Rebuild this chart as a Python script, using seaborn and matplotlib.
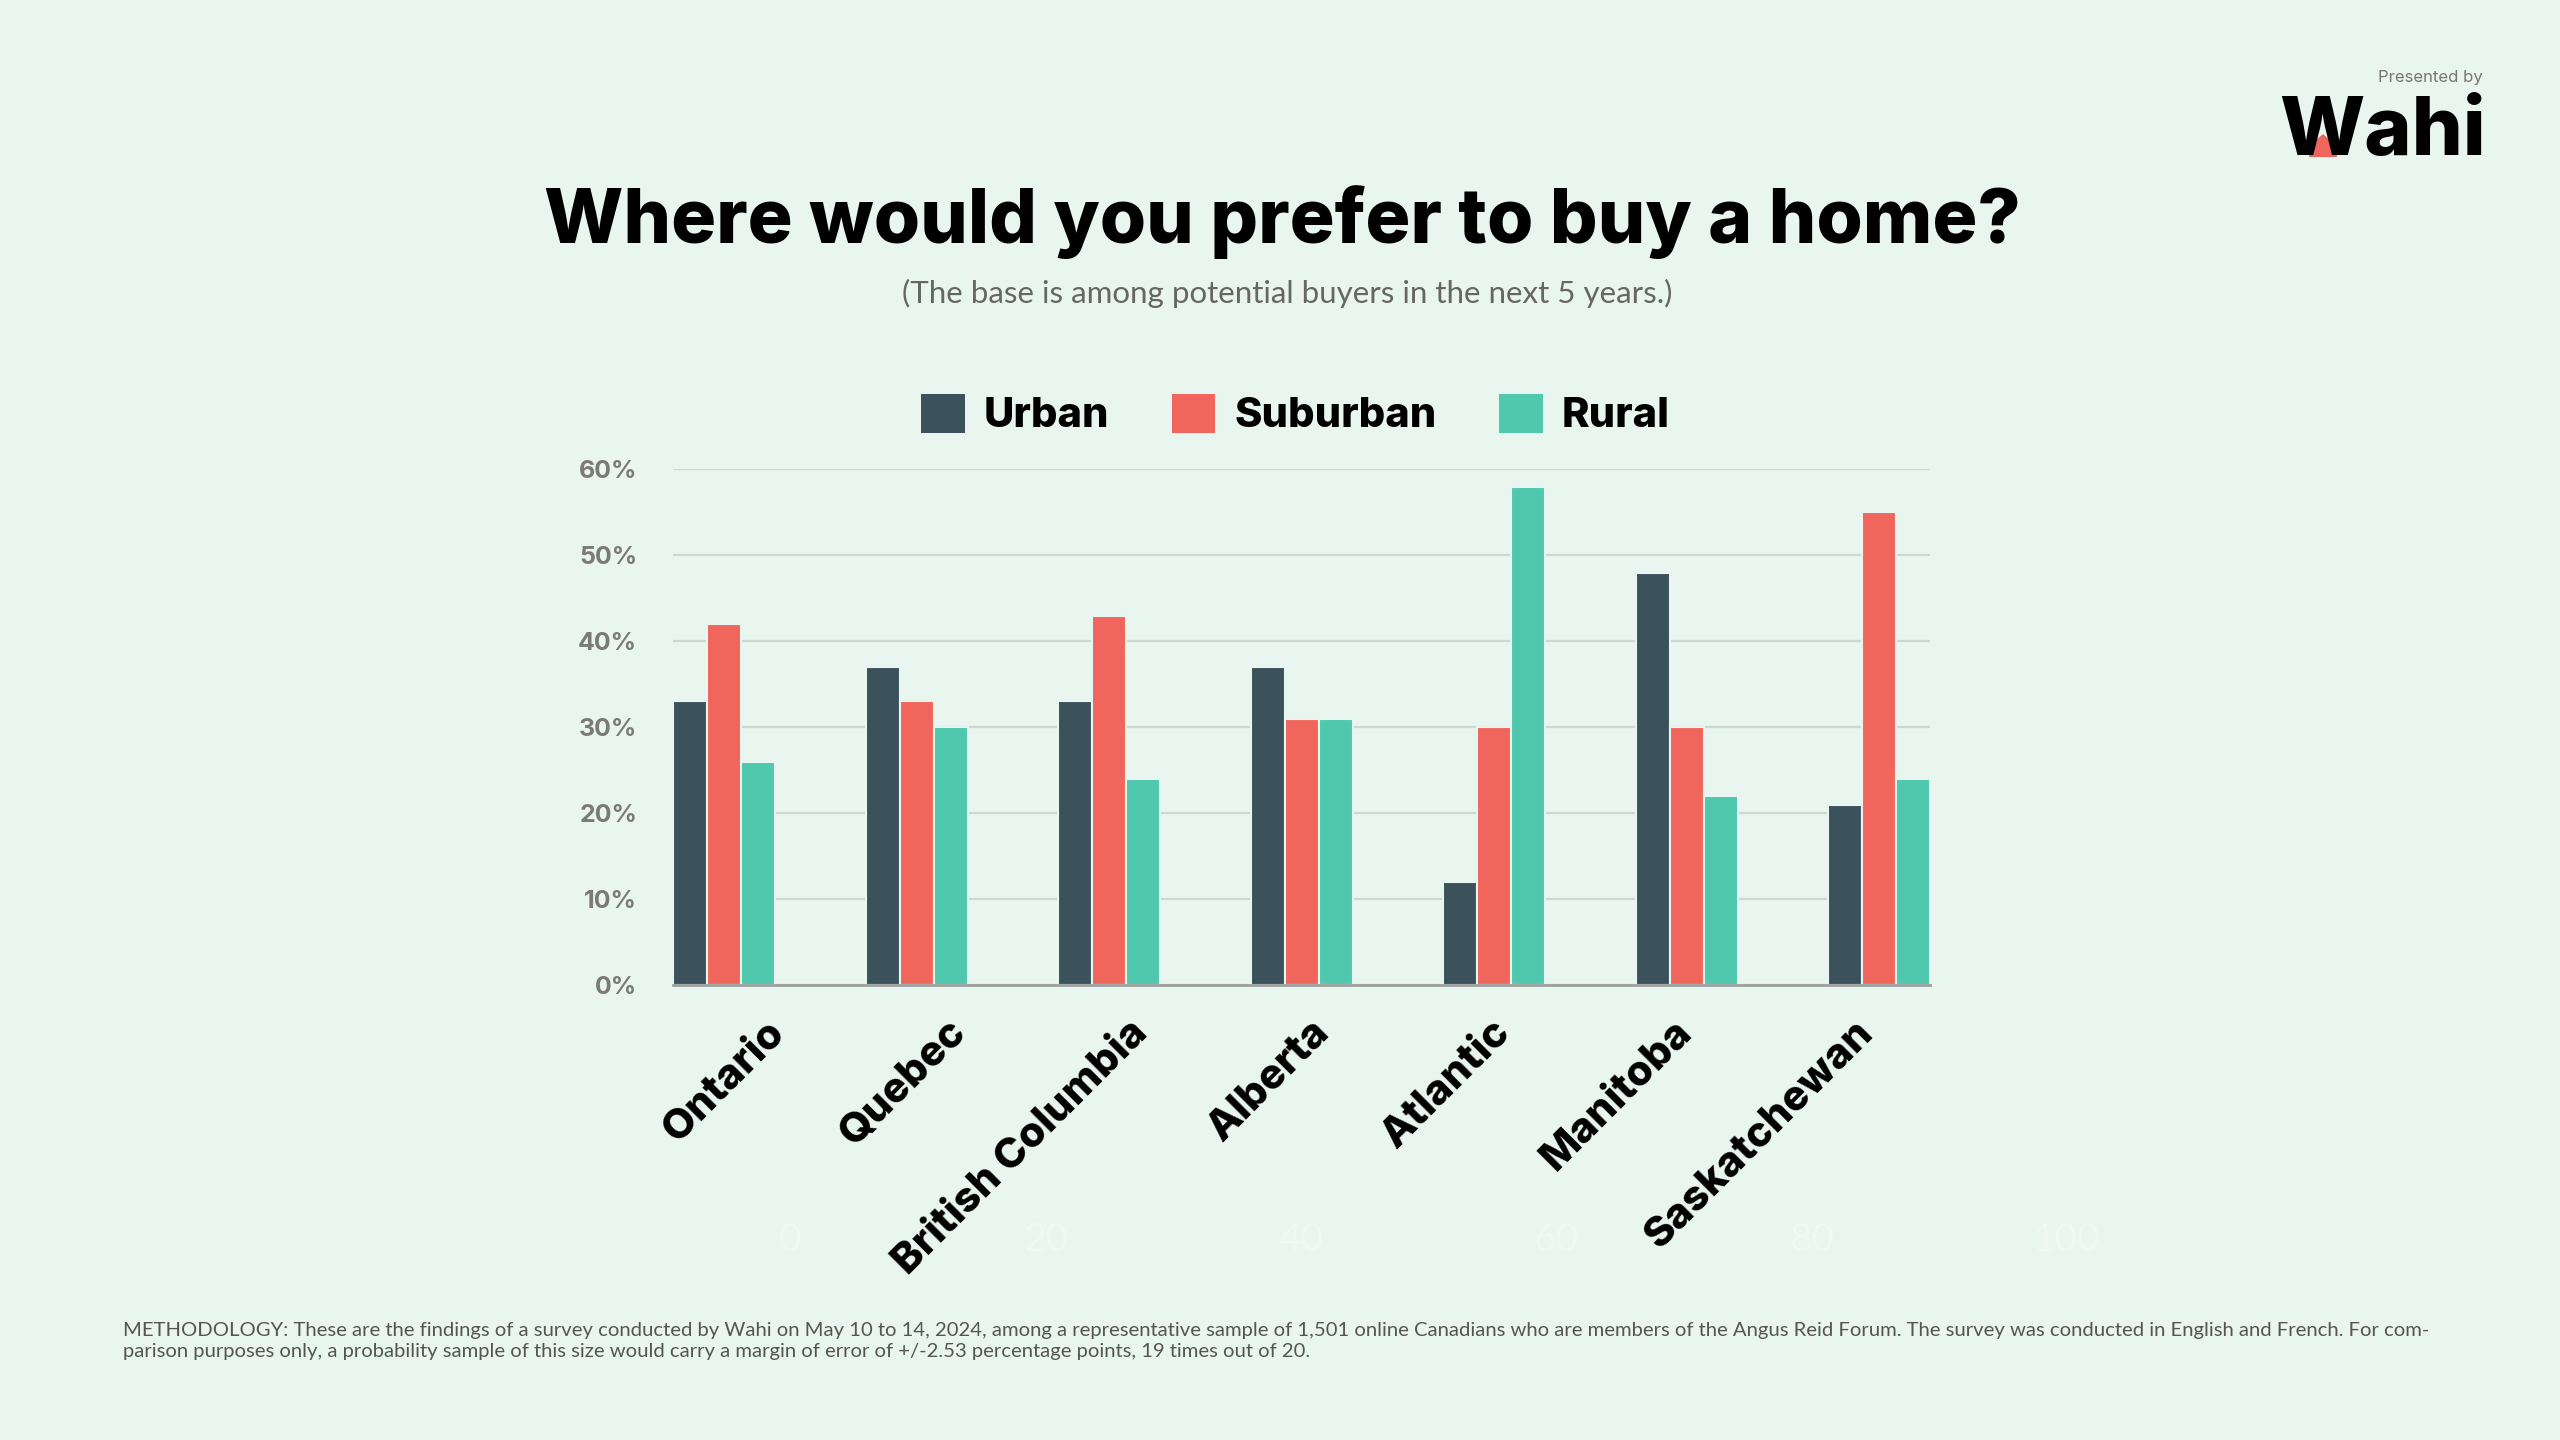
import numpy as np
import pandas as pd
import seaborn as sns
import matplotlib.pyplot as plt
import matplotlib.transforms as mtransforms
from matplotlib.patches import Rectangle, Polygon

# survey results, share of potential buyers (%)
regions = ["Ontario", "Quebec", "British Columbia", "Alberta", "Atlantic", "Manitoba", "Saskatchewan"]
urban = [33, 37, 33, 37, 12, 48, 21]
suburban = [42, 33, 43, 31, 30, 30, 55]
rural = [26, 30, 24, 31, 58, 22, 24]
series = ["Urban", "Suburban", "Rural"]
colors = ["#3B525D", "#F0665C", "#4FC8AE"]
yticks = [0, 10, 20, 30, 40, 50, 60]
ghost_ticks = [0, 20, 40, 60, 80, 100]

bg = "#E8F6EF"

df = pd.DataFrame({
    "region": regions * 3,
    "share": urban + suburban + rural,
    "type": [s for s in series for _ in regions],
})

sns.set_theme(style="white")
plt.rcParams["font.family"] = ["Inter", "DejaVu Sans"]

fig = plt.figure(figsize=(25.6, 14.4), dpi=100, facecolor=bg)
ax = fig.add_axes([0.263, 0.316, 0.491, 0.358])
ax.set_facecolor(bg)

sns.barplot(data=df, x="region", y="share", hue="type", palette=colors, saturation=1,
            width=0.53, edgecolor=bg, linewidth=1.5, ax=ax, legend=False, zorder=3)

ax.set_xlim(-0.265, 6.265)
ax.set_ylim(0, 60)
ax.set_yticks(yticks)
ax.set_yticklabels([f"{v}%" for v in yticks], fontsize=18, fontweight="bold", color="#7a7a7a")
ax.tick_params(axis="y", length=0, pad=26)
ax.tick_params(axis="x", length=0, pad=30)
ax.yaxis.grid(True, color="#cdd8d2", linewidth=1.6, zorder=0)
ax.set_axisbelow(True)
for s in ["top", "right", "left"]:
    ax.spines[s].set_visible(False)
ax.spines["bottom"].set_color("#9aa09d")
ax.spines["bottom"].set_linewidth(2)
ax.spines["bottom"].set_zorder(5)
ax.set_xlabel("")
ax.set_ylabel("")

ax.set_xticks(range(len(regions)))
ax.set_xticklabels(regions, rotation=45, ha="right", va="center", rotation_mode="anchor",
                   fontsize=30, fontweight="heavy", color="black")
for i, lab in enumerate(ax.get_xticklabels()):
    dx = (54 - 11 * i) / 100
    lab.set_transform(lab.get_transform() + mtransforms.ScaledTranslation(dx, 0, fig.dpi_scale_trans))

# legend
handles = [Rectangle((0, 0), 1, 1, facecolor=c, edgecolor="none") for c in colors]
leg = fig.legend(handles, series, loc="center", bbox_to_anchor=(0.506, 0.712), ncol=3, frameon=False,
                 prop={"size": 30, "weight": "heavy"}, handlelength=1.05, handleheight=1.05,
                 handletextpad=0.45, columnspacing=1.5)
for t in leg.get_texts():
    t.set_color("black")

# titles
fig.text(0.501, 0.846, "Where would you prefer to buy a home?", ha="center", va="center",
         fontsize=54, fontweight="heavy", color="black")
fig.text(0.503, 0.796, "(The base is among potential buyers in the next 5 years.)", ha="center",
         va="center", fontsize=22.5, color="#666666", family=["Lato", "DejaVu Sans"])

# faint leftover axis numbers
for k, v in enumerate(ghost_ticks):
    fig.text((790 + 255.4 * k) / 2560, 0.139, str(v), ha="center", va="center",
             fontsize=28, color="#F0F8F4", family=["Lato", "DejaVu Sans"])

# logo
fig.text(0.970, 0.946, "Presented by", ha="right", va="center", fontsize=12, color="#777777")
fig.patches.append(Polygon([(2309 / 2560, 1 - 157 / 1440), (2309 / 2560, 1 - 146 / 1440),
                            (2323 / 2560, 1 - 134 / 1440), (2337 / 2560, 1 - 146 / 1440),
                            (2337 / 2560, 1 - 157 / 1440)], closed=True, transform=fig.transFigure,
                           facecolor="#F0665C", edgecolor="none", zorder=1))
fig.text(0.971, 0.907, "Wahi", ha="right", va="center", fontsize=58, fontweight="heavy",
         color="black", zorder=2)

# methodology
fig.text(0.048, 0.069,
         "METHODOLOGY: These are the findings of a survey conducted by Wahi on May 10 to 14, 2024, among a "
         "representative sample of 1,501 online Canadians who are members of the Angus Reid Forum. The survey "
         "was conducted in English and French. For com-\nparison purposes only, a probability sample of this "
         "size would carry a margin of error of +/-2.53 percentage points, 19 times out of 20.",
         ha="left", va="center", fontsize=14.6, color="#555555", linespacing=1.3,
         family=["Lato", "DejaVu Sans"])

fig.savefig("out.png", dpi=100, facecolor=bg)
